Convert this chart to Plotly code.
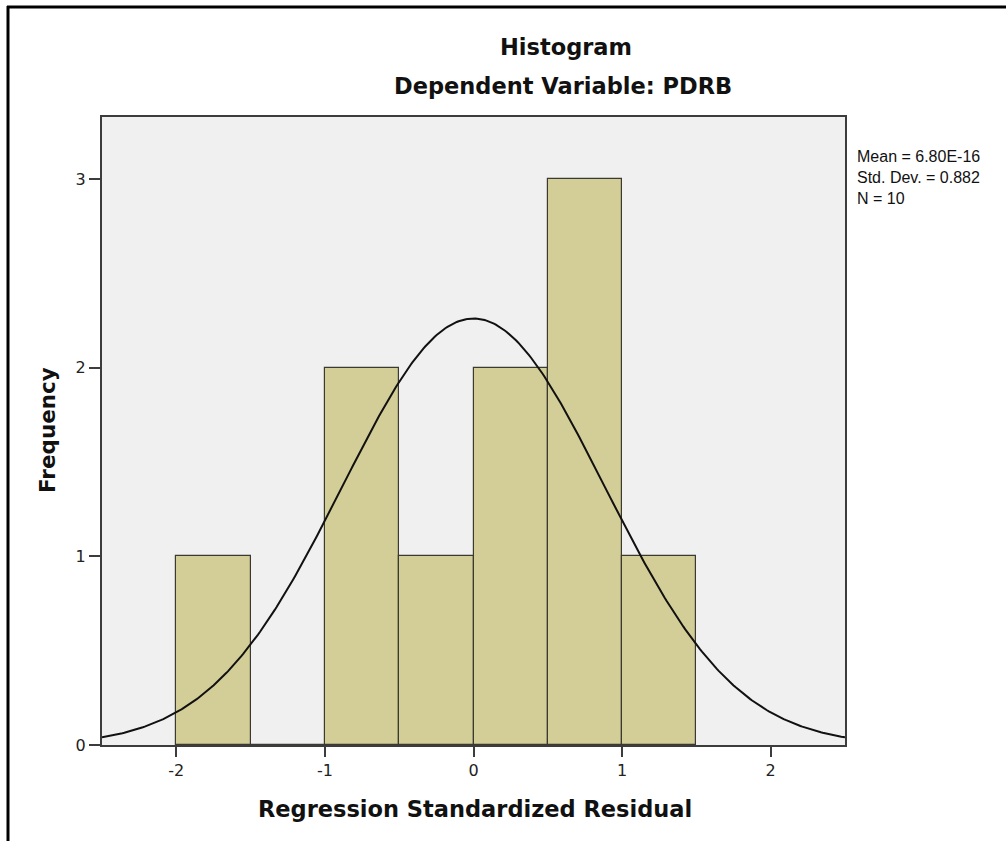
import numpy as np
import plotly.graph_objects as go

# Data
bin_left_edges = [-2.0, -1.5, -1.0, -0.5, 0.0, 0.5, 1.0]
bin_counts = [1, 0, 2, 1, 2, 3, 1]
bin_width = 0.5
stat_mean = 6.80e-16
stat_sd = 0.882
stat_n = 10
x_ticks = [-2, -1, 0, 1, 2]
y_ticks = [0, 1, 2, 3]
stat_lines = ["Mean = 6.80E-16", "Std. Dev. = 0.882", "N = 10"]

centers = [e + bin_width / 2 for e in bin_left_edges]

# Fitted normal curve (as drawn by SPSS from mean, sd, N)
xs = np.linspace(-2.5, 2.5, 401)
ys = stat_n * bin_width * np.exp(-0.5 * ((xs - stat_mean) / stat_sd) ** 2) / (stat_sd * np.sqrt(2 * np.pi))

W, H = 1006, 841
L, R, T, B = 102, 845, 117, 745
pw, ph = R - L, B - T

def px(x):
    return (x - L) / pw

def py(y):
    return (B - y) / ph

fig = go.Figure()
fig.add_trace(go.Bar(
    x=centers, y=bin_counts, width=bin_width,
    marker=dict(color="#D3CE97", line=dict(color="#3a3a30", width=1.2)),
    hoverinfo="skip", showlegend=False,
))
fig.add_trace(go.Scatter(
    x=xs, y=ys, mode="lines", line=dict(color="#111111", width=2),
    hoverinfo="skip", showlegend=False,
))

font = "DejaVu Sans, Verdana, sans-serif"
axis_common = dict(
    showline=True, mirror=True, linecolor="#3c3c3c", linewidth=2,
    ticks="outside", tickcolor="#3c3c3c", tickwidth=2,
    showgrid=False, zeroline=False,
    tickfont=dict(family=font, size=16, color="#222222"),
)

fig.update_layout(
    width=W, height=H,
    margin=dict(l=L, r=W - R, t=T, b=H - B, pad=0),
    paper_bgcolor="white", plot_bgcolor="#F0F0F0",
    xaxis=dict(range=[-2.5, 2.5], tickvals=x_ticks, ticktext=[str(v) for v in x_ticks],
               ticklen=10, **axis_common),
    yaxis=dict(range=[0, 3.33], tickvals=y_ticks, ticktext=[str(v) for v in y_ticks],
               ticklen=11, **axis_common),
    bargap=0,
    showlegend=False,
)

annos = [
    dict(text="<b>Histogram</b>", x=px(566), y=py(47)),
    dict(text="<b>Dependent Variable: PDRB</b>", x=px(563), y=py(86)),
    dict(text="<b>Regression Standardized Residual</b>", x=px(475), y=py(809)),
]
for a in annos:
    fig.add_annotation(text=a["text"], x=a["x"], y=a["y"], xref="paper", yref="paper",
                       showarrow=False, xanchor="center", yanchor="middle",
                       font=dict(family=font, size=22.5, color="#111111"))
fig.add_annotation(text="<b>Frequency</b>", x=px(48), y=py(430), xref="paper", yref="paper",
                   showarrow=False, textangle=-90, xanchor="center", yanchor="middle",
                   font=dict(family=font, size=21.5, color="#111111"))
fig.add_annotation(
    text="<br>".join(stat_lines), x=px(855), y=py(177), xref="paper", yref="paper", showarrow=False,
    xanchor="left", yanchor="middle", align="left",
    font=dict(family="Liberation Sans, Arial, sans-serif", size=16, color="#111111"),
)

# Outer frame (left and top edges)
fig.add_shape(type="line", xref="paper", yref="paper", x0=px(8), x1=px(8), y0=py(6), y1=py(845),
              line=dict(color="black", width=3))
fig.add_shape(type="line", xref="paper", yref="paper", x0=px(7), x1=px(1010), y0=py(7), y1=py(7),
              line=dict(color="black", width=3))

fig.write_html("out.html", config={"displayModeBar": False},
               post_script="document.body.style.margin='0';document.body.style.overflow='hidden';")
